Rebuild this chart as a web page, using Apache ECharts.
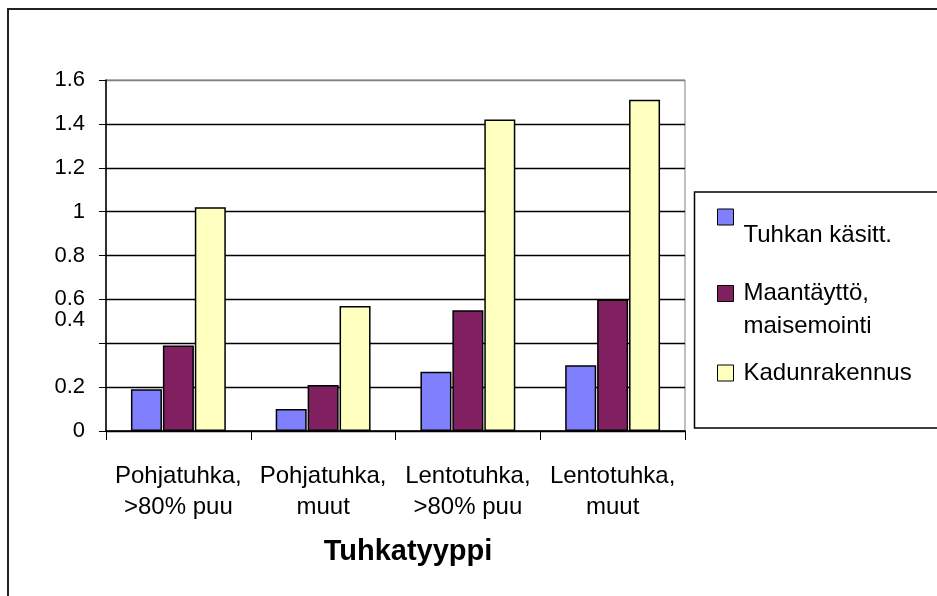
<!DOCTYPE html>
<html>
<head>
<meta charset="utf-8">
<script src="https://cdn.jsdelivr.net/npm/echarts@6/dist/echarts.min.js"></script>
<style>
  html, body { margin: 0; padding: 0; background: #fff; }
  #chart { width: 937px; height: 596px; }
</style>
</head>
<body>
<div id="chart"></div>
<script>
const categories = ['Pohjatuhka,\n>80% puu', 'Pohjatuhka,\nmuut', 'Lentotuhka,\n>80% puu', 'Lentotuhka,\nmuut'];
const seriesNames = ['Tuhkan käsitt.', 'Maantäyttö,\nmaisemointi', 'Kadunrakennus'];
const tuhkanKasitt = [0.19, 0.10, 0.27, 0.30];
const maantaytto = [0.39, 0.21, 0.55, 0.60];
const kadunrakennus = [1.02, 0.57, 1.42, 1.51];
const colors = ['#8080FF', '#802060', '#FFFFC0'];

const font = 'Liberation Sans, Arial, sans-serif';
const chart = echarts.init(document.getElementById('chart'));

// one legend per entry so each can sit where the original has it
const makeLegend = (name, top, lineHeight, blankLine) => ({
    data: [name],
    orient: 'vertical',
    left: 717,
    top: top,
    padding: 0,
    icon: 'rect',
    itemWidth: 16,
    itemHeight: 16,
    itemStyle: { borderColor: '#000', borderWidth: 1 },
    selectedMode: false,
    formatter: (n) => (blankLine ? '\n' + n : n),
    textStyle: { fontFamily: font, fontSize: 24, color: '#000', lineHeight: lineHeight, padding: [0, 0, 0, 5] },
});

const makeSeries = (name, data, color) => ({
    name: name,
    type: 'bar',
    data: data,
    barWidth: 31,
    barGap: '3%',
    itemStyle: { color: color, borderColor: '#000', borderWidth: 1.5 },
});

chart.setOption({
    animation: false,
    backgroundColor: '#fff',
    grid: {
        left: 106,
        right: 252,
        top: 80,
        bottom: 165,
        containLabel: false,
        show: true,
        borderColor: '#808080',
        borderWidth: 1,
    },
    graphic: [
        {
            type: 'rect',
            shape: { x: 8, y: 9, width: 1000, height: 700 },
            style: { fill: null, stroke: '#222', lineWidth: 2 },
            silent: true,
        },
        {
            type: 'rect',
            shape: { x: 694.5, y: 192, width: 300, height: 236 },
            style: { fill: null, stroke: '#000', lineWidth: 1.5 },
            silent: true,
        },
    ],
    legend: [
        makeLegend(seriesNames[0], 181, 36, true),
        makeLegend(seriesNames[1], 244, 33, true),
        makeLegend(seriesNames[2], 360, 26, false),
    ],
    xAxis: {
        type: 'category',
        data: categories,
        name: 'Tuhkatyyppi',
        nameLocation: 'middle',
        nameGap: 106,
        nameTextStyle: {
            fontFamily: font,
            fontSize: 29,
            fontWeight: 'bold',
            color: '#000',
            padding: [0, 0, 0, 25],
        },
        axisLine: { lineStyle: { color: '#000', width: 1.5 } },
        axisTick: { show: true, length: 9, lineStyle: { color: '#000' } },
        axisLabel: {
            interval: 0,
            margin: 30,
            fontFamily: font,
            fontSize: 24,
            lineHeight: 31,
            color: '#000',
        },
        splitLine: { show: false },
    },
    yAxis: {
        type: 'value',
        min: 0,
        max: 1.6,
        interval: 0.2,
        axisLine: { show: true, lineStyle: { color: '#000', width: 1.5 } },
        axisTick: { show: true, length: 7, lineStyle: { color: '#000' } },
        axisLabel: {
            margin: 21,
            fontFamily: font,
            fontSize: 22,
            color: '#000',
            formatter: (v) => (Math.abs(v - 0.4) < 1e-9 ? '{up|0.4}' : String(Math.round(v * 10) / 10)),
            rich: {
                up: { fontFamily: font, fontSize: 22, color: '#000', padding: [0, 0, 46, 0] },
            },
        },
        splitLine: {
            show: true,
            lineStyle: {
                color: ['#000', '#000', '#000', '#000', '#000', '#000', '#000', '#000', '#808080'],
                width: 1.3,
            },
        },
    },
    series: [
        makeSeries(seriesNames[0], tuhkanKasitt, colors[0]),
        makeSeries(seriesNames[1], maantaytto, colors[1]),
        makeSeries(seriesNames[2], kadunrakennus, colors[2]),
    ],
});
</script>
</body>
</html>
